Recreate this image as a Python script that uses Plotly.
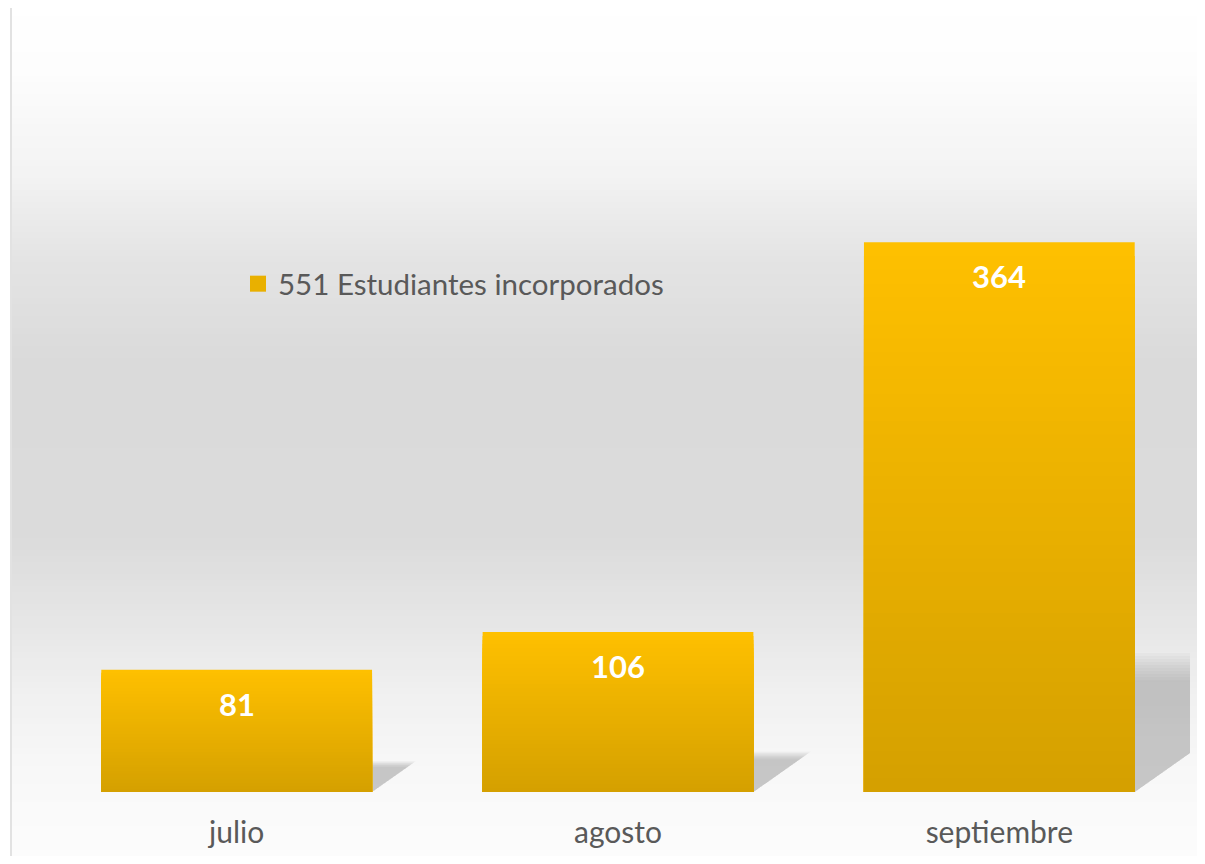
import plotly.graph_objects as go

# data
MONTHS = ["julio", "agosto", "septiembre"]
STUDENTS = [81, 106, 364]
SERIES_NAME = "551 Estudiantes incorporados"

# page is rendered with an 8px body margin, so keep the figure inside the viewport
OFF = 8
W, H = 1205, 864
FIG_W, FIG_H = W - 2 * OFF, H - 2 * OFF
PLOT_L, PLOT_R, PLOT_T, PLOT_B = 46, 1190, 40, 792  # page pixels
PLOT_W = PLOT_R - PLOT_L
PLOT_H = PLOT_B - PLOT_T
Y_MAX = 498
BAR_W = 0.71
FONT = "Lato, 'Open Sans', sans-serif"
TXT = "#595959"

GOLD_TOP = (255, 192, 0)
GOLD_BOT = (212, 160, 0)

# background (top -> bottom) grey stops
BG_STOPS = [(0.0, 255), (0.08, 253), (0.2, 243), (0.3, 228), (0.42, 218),
            (0.62, 219), (0.72, 230), (0.8, 240), (0.88, 247), (0.94, 250), (1.0, 252)]


def px_x(p):
    return (p - PLOT_L) / PLOT_W


def px_y(p):
    return (PLOT_B - p) / PLOT_H


def bg_grey(t):
    for (t0, g0), (t1, g1) in zip(BG_STOPS[:-1], BG_STOPS[1:]):
        if t0 <= t <= t1:
            return round(g0 + (g1 - g0) * (t - t0) / (t1 - t0))
    return BG_STOPS[-1][1]


def mix(c0, c1, t):
    return "rgb({},{},{})".format(*[round(a + (b - a) * t) for a, b in zip(c0, c1)])


x_idx = list(range(len(MONTHS)))
fig = go.Figure()

# gradient bars: overlayed bars, each shorter and darker
N = 40
for k in range(N):
    frac = 1 - k / N
    fig.add_trace(go.Bar(
        x=x_idx,
        y=[v * frac for v in STUDENTS],
        width=BAR_W,
        marker=dict(color=mix(GOLD_TOP, GOLD_BOT, (k + 0.5) / N), line_width=0),
        showlegend=False,
        hovertemplate="%{customdata}<extra></extra>",
        customdata=STUDENTS,
    ))

# legend entry
fig.add_trace(go.Scatter(
    x=[None], y=[None], mode="markers", name=SERIES_NAME,
    marker=dict(symbol="square", size=16, color="#E9B000", line_width=0),
))

# value labels inside the top of each bar
annotations = [
    dict(x=i, y=v, xref="x", yref="y", text=str(v), showarrow=False,
         yanchor="middle", yshift=-34,
         font=dict(family=FONT, size=31, color="white", weight="bold"))
    for i, v in zip(x_idx, STUDENTS)
]

shapes = []
# background gradient strips
step = 6
for py in range(4, H, step):
    g = bg_grey((py + step / 2) / H)
    shapes.append(dict(type="rect", xref="paper", yref="paper", layer="below",
                       x0=px_x(12), x1=px_x(W + 10), y0=px_y(py), y1=px_y(py + step),
                       fillcolor=f"rgb({g},{g},{g})", line_width=0))

# soft perspective shadows to the right of each bar
px_per_unit_y = PLOT_H / Y_MAX
px_per_cat = PLOT_W / 3
for i, v in enumerate(STUDENTS):
    x1 = i + BAR_W / 2
    for j in range(10):
        grow = 1.1 - 0.024 * j
        sh = 0.23 * v * grow
        dx = sh * px_per_unit_y * 1.42 / px_per_cat
        shapes.append(dict(type="path", xref="x", yref="y", layer="below",
                           path=f"M {x1},0 L {x1 + dx},{sh} L {x1},{sh} Z",
                           fillcolor="rgba(120,120,120,0.048)", line_width=0))

# outer border
shapes.append(dict(type="rect", xref="paper", yref="paper", layer="below",
                   x0=px_x(11), x1=px_x(W + 20), y0=px_y(3), y1=px_y(H + 20),
                   line=dict(color="#d9d9d9", width=1.5), fillcolor="rgba(0,0,0,0)"))

fig.update_layout(
    width=FIG_W, height=FIG_H, autosize=False,
    margin=dict(l=PLOT_L - OFF, r=FIG_W - (PLOT_R - OFF), t=PLOT_T - OFF,
                b=FIG_H - (PLOT_B - OFF)),
    barmode="overlay",
    paper_bgcolor="white",
    plot_bgcolor="rgba(0,0,0,0)",
    shapes=shapes,
    annotations=annotations,
    showlegend=True,
    legend=dict(x=px_x(238), y=px_y(284), xanchor="left", yanchor="middle",
                bgcolor="rgba(0,0,0,0)", font=dict(family=FONT, size=29.5, color=TXT)),
    font=dict(family=FONT, color=TXT),
)
fig.update_xaxes(range=[-0.5, 2.5], tickvals=x_idx, ticktext=MONTHS, showgrid=False,
                 zeroline=False, showline=False, ticks="", ticklabelstandoff=20,
                 tickfont=dict(family=FONT, size=30, color=TXT), fixedrange=True)
fig.update_yaxes(range=[0, Y_MAX], visible=False, showgrid=False, fixedrange=True)

fig.write_html("out.html")
